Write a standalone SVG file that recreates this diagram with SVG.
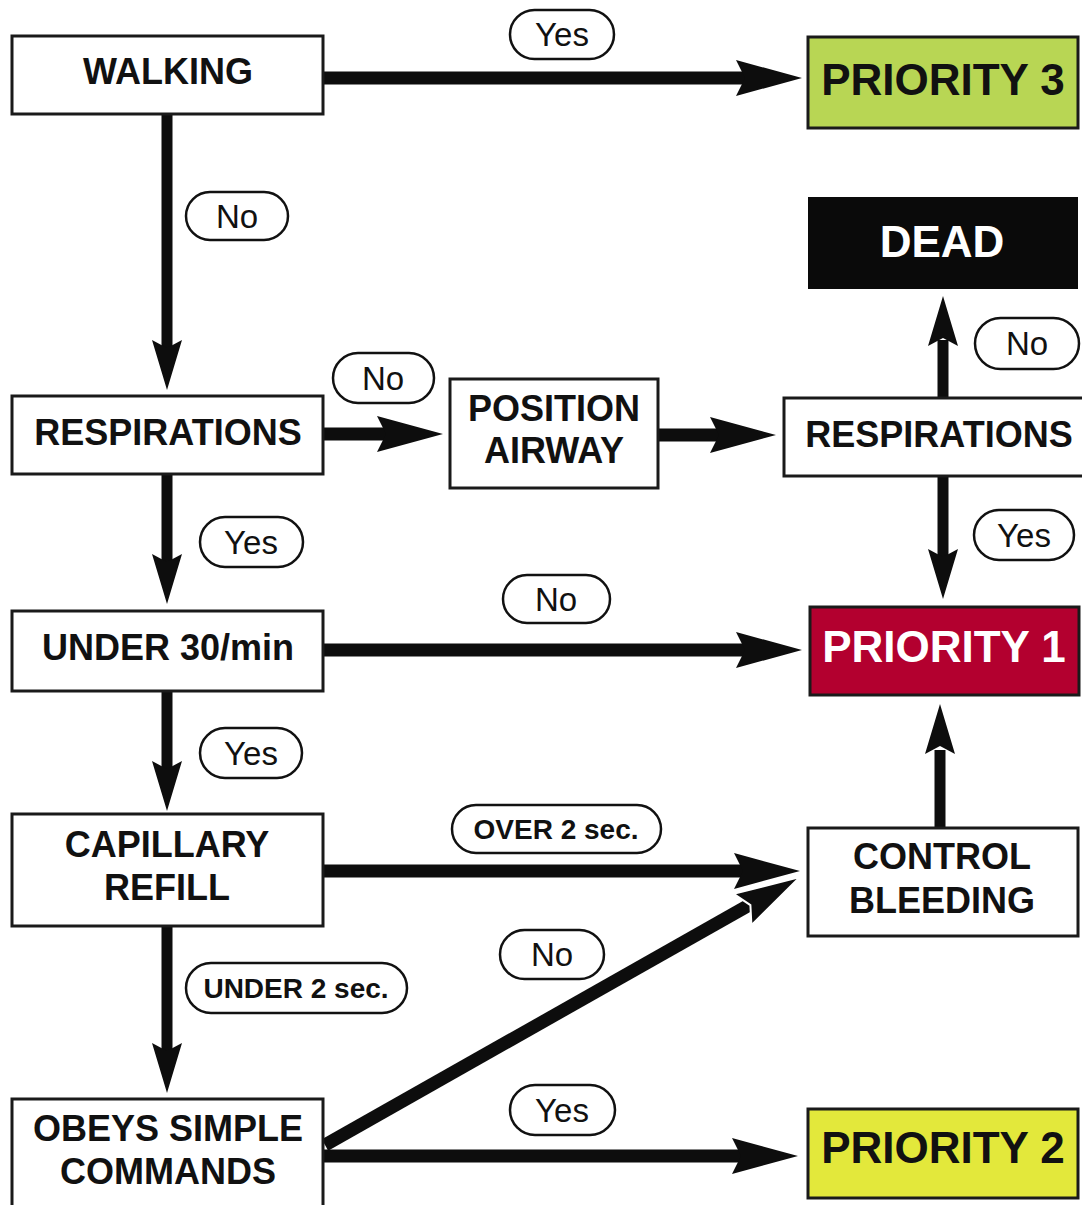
<svg xmlns="http://www.w3.org/2000/svg" xmlns:xlink="http://www.w3.org/1999/xlink" width="1082" height="1205" viewBox="0 0 1082 1205">
<style>
.box{fill:#fff;stroke:#1a1a1a;stroke-width:3}
.lbl{font-family:"Liberation Sans",Arial,sans-serif;font-weight:bold;font-size:36px;fill:#111;text-anchor:middle}
.pri{font-family:"Liberation Sans",Arial,sans-serif;font-weight:bold;font-size:44px;text-anchor:middle}
.pill{fill:#fff;stroke:#111;stroke-width:2.5}
.pt{font-family:"Liberation Sans",Arial,sans-serif;font-size:33px;fill:#111;text-anchor:middle}
.ptb{font-family:"Liberation Sans",Arial,sans-serif;font-weight:bold;font-size:28px;fill:#111;text-anchor:middle}
.sh{stroke:#0d0d0d;stroke-width:13;fill:none}
.sv{stroke:#0d0d0d;stroke-width:11;fill:none}
.head{fill:#0d0d0d}
</style>
<defs>
<path id="hR" class="head" d="M0,0 L-66,-18 L-57,0 L-66,18 Z"/>
<path id="hD" class="head" d="M0,0 L-15,-50 L0,-42 L15,-50 Z"/>
</defs>
<rect width="1082" height="1205" fill="#fff"/>

<g id="connectors">
  <!-- WALKING -> PRIORITY 3 -->
  <line class="sh" x1="324" y1="78" x2="746" y2="78"/>
  <use xlink:href="#hR" x="802" y="78"/>
  <!-- WALKING -> RESPIRATIONS -->
  <line class="sv" x1="167" y1="115" x2="167" y2="350"/>
  <use xlink:href="#hD" x="167" y="390"/>
  <!-- RESPIRATIONS -> POSITION AIRWAY -->
  <line class="sh" x1="324" y1="434" x2="387" y2="434"/>
  <use xlink:href="#hR" x="443" y="434"/>
  <!-- POSITION AIRWAY -> RESPIRATIONS (right) -->
  <line class="sh" x1="659" y1="435" x2="720" y2="435"/>
  <use xlink:href="#hR" x="776" y="435"/>
  <!-- RESPIRATIONS (right) -> DEAD -->
  <line class="sv" x1="943" y1="397" x2="943" y2="340"/>
  <use xlink:href="#hD" transform="translate(943,296) rotate(180)"/>
  <!-- RESPIRATIONS (right) -> PRIORITY 1 -->
  <line class="sv" x1="943" y1="477" x2="943" y2="560"/>
  <use xlink:href="#hD" x="943" y="599"/>
  <!-- RESPIRATIONS -> UNDER 30/min -->
  <line class="sv" x1="167" y1="475" x2="167" y2="565"/>
  <use xlink:href="#hD" x="167" y="604"/>
  <!-- UNDER 30/min -> PRIORITY 1 -->
  <line class="sh" x1="324" y1="650" x2="746" y2="650"/>
  <use xlink:href="#hR" x="802" y="650"/>
  <!-- UNDER 30/min -> CAPILLARY REFILL -->
  <line class="sv" x1="167" y1="692" x2="167" y2="772"/>
  <use xlink:href="#hD" x="167" y="811"/>
  <!-- CAPILLARY REFILL -> CONTROL BLEEDING -->
  <line class="sh" x1="324" y1="871" x2="744" y2="871"/>
  <use xlink:href="#hR" x="800" y="871"/>
  <!-- CAPILLARY REFILL -> OBEYS -->
  <line class="sv" x1="167" y1="927" x2="167" y2="1053"/>
  <use xlink:href="#hD" x="167" y="1093"/>
  <!-- OBEYS -> CONTROL BLEEDING (diagonal) -->
  <line class="sh" x1="325" y1="1145" x2="751" y2="904"/>
  <use xlink:href="#hR" transform="translate(800,877) rotate(-29.5)" stroke="#fff" stroke-width="2"/>
  <!-- OBEYS -> PRIORITY 2 -->
  <line class="sh" x1="324" y1="1156" x2="742" y2="1156"/>
  <use xlink:href="#hR" x="798" y="1156"/>
  <!-- CONTROL BLEEDING -> PRIORITY 1 -->
  <line class="sv" x1="940" y1="827" x2="940" y2="750"/>
  <use xlink:href="#hD" transform="translate(940,704) rotate(180)"/>

  <!-- edge labels -->
  <rect class="pill" x="510" y="10" width="104" height="49" rx="24.5"/>
  <text class="pt" x="562" y="46">Yes</text>
  <rect class="pill" x="186" y="192" width="102" height="48" rx="24"/>
  <text class="pt" x="237" y="228">No</text>
  <rect class="pill" x="333" y="353" width="101" height="50" rx="25"/>
  <text class="pt" x="383" y="390">No</text>
  <rect class="pill" x="975" y="318" width="104" height="51" rx="25.5"/>
  <text class="pt" x="1027" y="355">No</text>
  <rect class="pill" x="200" y="517" width="103" height="50" rx="25"/>
  <text class="pt" x="251" y="554">Yes</text>
  <rect class="pill" x="974" y="510" width="100" height="50" rx="25"/>
  <text class="pt" x="1024" y="547">Yes</text>
  <rect class="pill" x="503" y="575" width="107" height="48" rx="24"/>
  <text class="pt" x="556" y="611">No</text>
  <rect class="pill" x="200" y="728" width="102" height="50" rx="25"/>
  <text class="pt" x="251" y="765">Yes</text>
  <rect class="pill" x="452" y="805" width="209" height="48" rx="24"/>
  <text class="ptb" x="556" y="839">OVER 2 sec.</text>
  <rect class="pill" x="186" y="963" width="221" height="50" rx="25"/>
  <text class="ptb" x="296" y="998">UNDER 2 sec.</text>
  <rect class="pill" x="500" y="930" width="104" height="49" rx="24.5"/>
  <text class="pt" x="552" y="966">No</text>
  <rect class="pill" x="510" y="1085" width="105" height="50" rx="25"/>
  <text class="pt" x="562" y="1122">Yes</text>
</g>

<g id="walking">
  <rect class="box" x="12" y="36" width="311" height="78"/>
  <text class="lbl" x="168" y="84">WALKING</text>
</g>
<g id="priority3">
  <rect x="808" y="37" width="270" height="91" fill="#b8d654" stroke="#1a1a1a" stroke-width="3"/>
  <text class="pri" x="943" y="95" fill="#111">PRIORITY 3</text>
</g>
<g id="dead">
  <rect x="808" y="197" width="270" height="92" fill="#0a0a0a"/>
  <text class="pri" x="942" y="257" fill="#fff" font-size="46">DEAD</text>
</g>
<g id="respirations1">
  <rect class="box" x="12" y="396" width="311" height="78"/>
  <text class="lbl" x="168" y="445">RESPIRATIONS</text>
</g>
<g id="position-airway">
  <rect class="box" x="450" y="379" width="208" height="109"/>
  <text class="lbl" x="554" y="421">POSITION</text>
  <text class="lbl" x="554" y="463">AIRWAY</text>
</g>
<g id="respirations2">
  <rect class="box" x="784" y="398" width="310" height="78"/>
  <text class="lbl" x="939" y="447">RESPIRATIONS</text>
</g>
<g id="priority1">
  <rect x="810" y="607" width="269" height="88" fill="#b3002f" stroke="#1a1a1a" stroke-width="3"/>
  <text class="pri" x="944" y="662" fill="#fff">PRIORITY 1</text>
</g>
<g id="under30">
  <rect class="box" x="12" y="611" width="311" height="80"/>
  <text class="lbl" x="168" y="660">UNDER 30/min</text>
</g>
<g id="capillary-refill">
  <rect class="box" x="12" y="814" width="311" height="112"/>
  <text class="lbl" x="167" y="857">CAPILLARY</text>
  <text class="lbl" x="167" y="900">REFILL</text>
</g>
<g id="control-bleeding">
  <rect class="box" x="808" y="828" width="270" height="108"/>
  <text class="lbl" x="942" y="869">CONTROL</text>
  <text class="lbl" x="942" y="913">BLEEDING</text>
</g>
<g id="obeys">
  <rect class="box" x="12" y="1099" width="311" height="120"/>
  <text class="lbl" x="168" y="1141">OBEYS SIMPLE</text>
  <text class="lbl" x="168" y="1184">COMMANDS</text>
</g>
<g id="priority2">
  <rect x="808" y="1109" width="270" height="89" fill="#e3e83b" stroke="#1a1a1a" stroke-width="3"/>
  <text class="pri" x="943" y="1163" fill="#111">PRIORITY 2</text>
</g>
</svg>
